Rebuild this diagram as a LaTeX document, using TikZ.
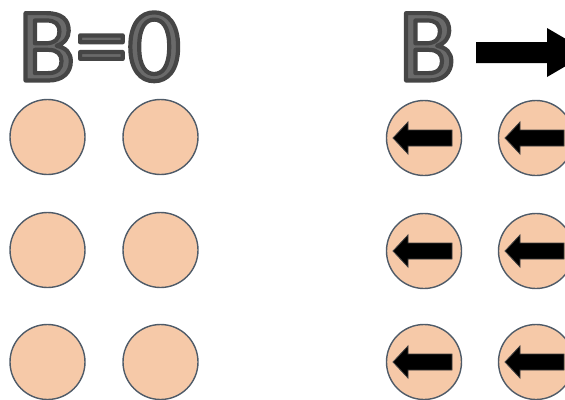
\documentclass[tikz,border=0pt]{standalone}
\usepackage{fontspec}
\setmainfont{Carlito}
\definecolor{peach}{HTML}{F6C9A8}
\definecolor{rim}{HTML}{4F5B68}
\definecolor{titlegray}{HTML}{6A6A6A}
\definecolor{titledark}{HTML}{404040}
\newcommand{\bevtext}[1]{\color{titlegray}\special{pdf:code 2 Tr 4.2 w 0.27 G 1 j}#1\special{pdf:code 0 Tr}}
\begin{document}
\begin{tikzpicture}[x=1pt,y=-1pt,
  ball/.style={circle,draw=rim,line width=1.4pt,fill=peach,minimum size=75pt,inner sep=0pt},
  spinarrow/.style={fill=black,draw=titledark,line width=0.8pt,line join=miter},
  bigtitle/.style={inner sep=0pt,anchor=base west,font=\fontsize{105}{105}\selectfont}]
\useasboundingbox (0,0) rectangle (565,399);
\clip (0,0) rectangle (565,399);
% titles
\node[bigtitle] (t1) at (18,80.5) {\bevtext{B=0}};
\node[bigtitle] (t2) at (398.5,80.5) {\bevtext{B}};
% field arrow
\coordinate (fa) at (476,52.5);
\fill[black] (fa) ++(0,-10.5) -- ++(71,0) -- ++(0,-14) -- ++(42,24.5) -- ++(-42,24.5) -- ++(0,-14) -- ++(-71,0) -- cycle;
% left grid
\foreach \r/\y in {1/137,2/250,3/362}{
  \node[ball] (L\r a) at (47.5,\y) {};
  \node[ball] (L\r b) at (160.5,\y) {};
}
% right grid with arrows
\foreach \r/\y in {1/138,2/251,3/362}{
  \foreach \c/\x in {a/424,b/536}{
    \node[ball] (R\r\c) at (\x,\y) {};
    \draw[spinarrow] ([shift={(-31,0)}]R\r\c.center) -- ++(15,-16) -- ++(0,8) -- ++(44,0) -- ++(0,16) -- ++(-44,0) -- ++(0,8) -- cycle;
  }
}
\end{tikzpicture}
\end{document}
